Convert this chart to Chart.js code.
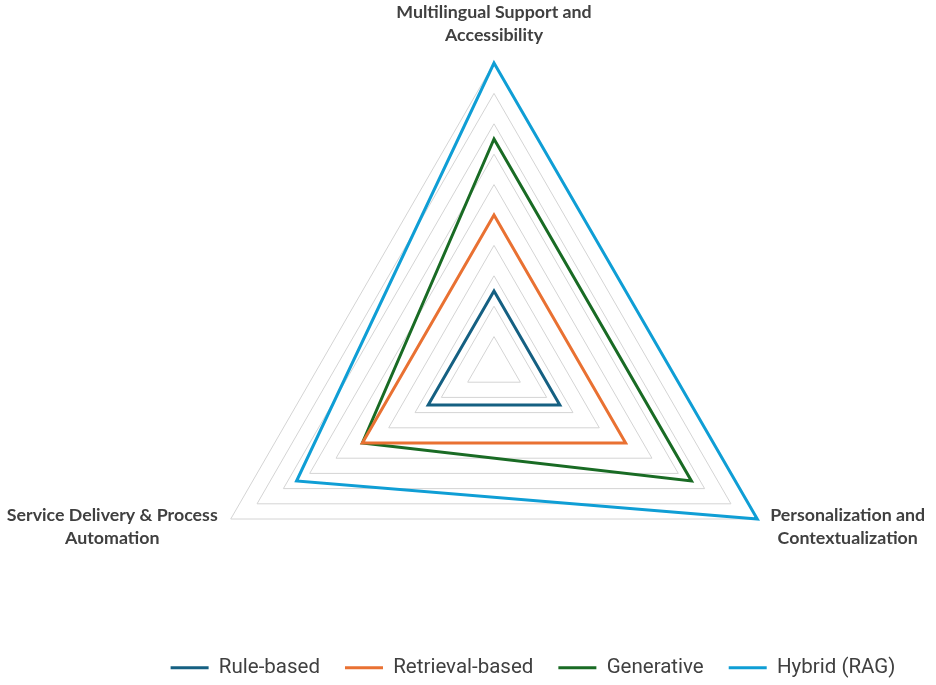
<!DOCTYPE html>
<html>
<head>
<meta charset="utf-8">
<script src="https://cdn.jsdelivr.net/npm/chart.js@4/dist/chart.umd.min.js"></script>
<style>
  html, body { margin: 0; padding: 0; background: #fff; }
  #wrap { width: 936px; height: 685px; }
</style>
</head>
<body>
<div id="wrap"><canvas id="grafico"></canvas></div>
<script>
// eixos (primeiro no topo, depois sentido horário)
const categorias = [
    ['Multilingual Support and', 'Accessibility'],
    ['Personalization and', 'Contextualization'],
    ['Service Delivery & Process', 'Automation']
];

const series = ['Rule-based', 'Retrieval-based', 'Generative', 'Hybrid (RAG)'];
const ruleBased = [2.5, 2.5, 2.5];
const retrievalBased = [5, 5, 5];
const generative = [7.5, 7.5, 5];
const hybrid = [10, 10, 7.5];
const cores = ['#156082', '#E97132', '#196B24', '#0F9ED5'];

const escalaMin = 0;
const escalaMax = 10;
const passo = 1;

const valores = [ruleBased, retrievalBased, generative, hybrid];

// geometria do radar (layout)
const centroX = 494;
const centroY = 367;
const raio = 304;

const fonteRotulo = 'bold 17.8px Lato, "Open Sans", sans-serif';
const alturaLinha = 23;

// desenha os rótulos dos eixos ao redor do triângulo
const rotulosEixos = {
    id: 'rotulosEixos',
    afterDraw(chart) {
        const scale = chart.scales.r;
        const ctx = chart.ctx;
        ctx.save();
        ctx.font = fonteRotulo;
        ctx.fillStyle = '#404040';
        ctx.textBaseline = 'middle';
        ctx.textAlign = 'center';

        categorias.forEach((linhas, i) => {
            const gap = i === 0 ? 16 : 15;
            const pos = scale.getPointPosition(i, scale.drawingArea + gap);
            const larguraBloco = Math.max(...linhas.map(l => ctx.measureText(l).width));
            const alturaBloco = linhas.length * alturaLinha;

            let cx, topo;
            if (i === 0) {
                cx = pos.x;
                topo = pos.y - alturaBloco;
            } else if (pos.x > scale.xCenter) {
                cx = pos.x + larguraBloco / 2;
                topo = pos.y - alturaBloco / 2;
            } else {
                cx = pos.x - larguraBloco / 2;
                topo = pos.y - alturaBloco / 2;
            }

            linhas.forEach((txt, k) => {
                ctx.fillText(txt, cx, topo + alturaLinha * (k + 0.5));
            });
        });
        ctx.restore();
    }
};

const ctx = document.getElementById('grafico').getContext('2d');

new Chart(ctx, {
    type: 'radar',
    data: {
        labels: categorias,
        datasets: series.map((nome, i) => ({
            label: nome,
            data: valores[i],
            borderColor: cores[i],
            backgroundColor: cores[i],
            borderWidth: 3,
            borderJoinStyle: 'miter',
            fill: false,
            pointRadius: 0,
            pointHoverRadius: 0,
            pointStyle: 'line'
        }))
    },
    options: {
        responsive: true,
        maintainAspectRatio: false,
        animation: false,
        layout: {
            padding: { top: 0, bottom: -3, left: 130, right: 0 }
        },
        scales: {
            r: {
                min: escalaMin,
                max: escalaMax,
                ticks: { stepSize: passo, display: false },
                grid: { color: '#d4d4d4', lineWidth: 1 },
                angleLines: { display: false },
                pointLabels: { display: false },
                afterFit: function (scale) {
                    scale.xCenter = centroX;
                    scale.yCenter = centroY;
                    scale.drawingArea = raio;
                }
            }
        },
        plugins: {
            legend: {
                position: 'bottom',
                labels: {
                    usePointStyle: true,
                    pointStyleWidth: 38,
                    padding: 25,
                    color: '#404040',
                    font: { family: 'Roboto, sans-serif', size: 20.5 }
                }
            },
            tooltip: { enabled: false }
        }
    },
    plugins: [rotulosEixos]
});
</script>
</body>
</html>
